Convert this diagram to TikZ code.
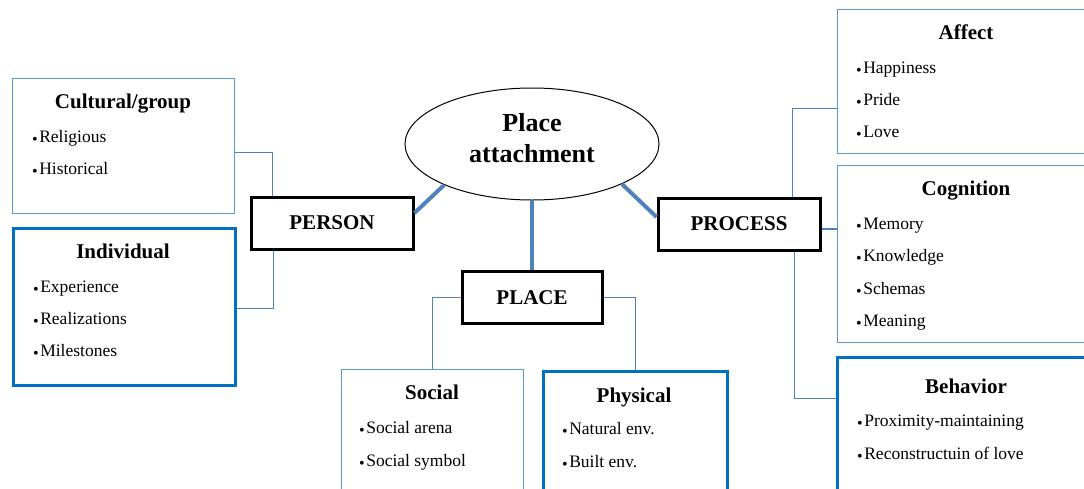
\documentclass[tikz,border=0pt]{standalone}
\usepackage{fontspec}
\setmainfont{Liberation Serif}
\usetikzlibrary{shapes.geometric}
\definecolor{linkblue}{RGB}{79,129,189}
\definecolor{boxblue}{RGB}{0,112,192}
\definecolor{thinblue}{RGB}{91,155,213}
\newcommand{\bul}{\raisebox{-2.5pt}{\fontsize{16}{16}\selectfont\textbullet}\kern1.5pt}
\tikzset{
  group box/.style={
    draw=thinblue,
    line width=1.3pt,
    anchor=north west,
    inner sep=0pt
  },
  key box/.style={
    group box,
    draw=boxblue,
    line width=3pt
  },
  main box/.style={
    draw,
    line width=3pt,
    minimum width=162pt,
    minimum height=52pt,
    font=\bfseries\fontsize{21}{25}\selectfont
  },
  head/.style={
    anchor=base,
    inner sep=0pt,
    font=\bfseries\fontsize{21}{25}\selectfont
  },
  item/.style={
    anchor=base west,
    inner sep=0pt,
    font=\fontsize{17.5}{21}\selectfont
  },
  link/.style={draw=linkblue, line width=1.5pt},
  stem/.style={draw=linkblue, line width=4pt}
}

\begin{document}
\begin{tikzpicture}[x=1pt,y=-1pt]
\useasboundingbox (0,0) rectangle (1084,488);
\clip (0,0) rectangle (1084,488);
% centre
\node (pa) [ellipse,draw,line width=1pt,minimum width=254pt,minimum height=112pt] at (532,144) {};
\node (paT) [align=center,font=\bfseries\fontsize{26}{31}\selectfont] at (532,138) {Place\\attachment};
\node (person) [main box] at (332,223) {PERSON};
\node (place) [main box,minimum width=140pt] at (532,297.5) {PLACE};
\node (process) [main box] at (739,224) {PROCESS};
% person side
\node (cult) [group box,minimum width=222pt,minimum height=135pt] at (12,78) {};
\node (cultT) [head] at (123,108) {Cultural/group};
\node (rel) [item] at (32,142) {\bul Religious};
\node (hist) [item] at (32,174) {\bul Historical};
\node (indiv) [key box,minimum width=222pt,minimum height=157pt] at (12,227) {};
\node (indivT) [head] at (123,258) {Individual};
\node (exp) [item] at (33,292) {\bul Experience};
\node (real) [item] at (33,324) {\bul Realizations};
\node (mile) [item] at (33,356) {\bul Milestones};
% place side
\node (social) [group box,minimum width=182pt,minimum height=130pt] at (341,369) {};
\node (socialT) [head] at (432,399) {Social};
\node (arena) [item] at (359,433) {\bul Social arena};
\node (symb) [item] at (359,466) {\bul Social symbol};
\node (phys) [key box,minimum width=184pt,minimum height=130pt] at (542,370) {};
\node (physT) [head] at (634,402) {Physical};
\node (nat) [item] at (562,434) {\bul Natural env.};
\node (built) [item] at (562,467) {\bul Built env.};
% process side
\node (affect) [group box,minimum width=260pt,minimum height=144pt] at (837,9) {};
\node (affectT) [head] at (966,39) {Affect};
\node (happy) [item] at (856,73) {\bul Happiness};
\node (pride) [item] at (856,105) {\bul Pride};
\node (love) [item] at (856,137) {\bul Love};
\node (cog) [group box,minimum width=260pt,minimum height=177pt] at (837,165) {};
\node (cogT) [head] at (966,195) {Cognition};
\node (mem) [item] at (856,229) {\bul Memory};
\node (know) [item] at (856,261) {\bul Knowledge};
\node (schema) [item] at (856,294) {\bul Schemas};
\node (mean) [item] at (856,326) {\bul Meaning};
\node (behav) [key box,minimum width=260pt,minimum height=150pt] at (836,356) {};
\node (behavT) [head] at (966,393) {Behavior};
\node (prox) [item] at (857,426) {\bul Proximity-maintaining};
\node (recon) [item] at (857,459) {\bul Reconstructuin of love};
% links
\draw [stem] (pa.205) -- ([yshift=10pt]person.east);
\draw [stem] (pa.south) -- (place.north);
\draw [stem] (pa.336) -- ([yshift=7pt]process.west);
\draw [link] ([yshift=-6.5pt]cult.east) -| ([xshift=23pt]person.north west);
\draw [link] ([yshift=-1.5pt]indiv.east) -| ([xshift=24pt]person.south west);
\draw [link] (place.west) -| (social.north);
\draw [link] (place.east) -| (phys.north);
\draw [link] ([xshift=136pt]process.north west) |- ([yshift=-27pt]affect.west);
\draw [link] ([yshift=-5pt]process.east) -- ([yshift=-5pt]process.east -| cog.west);
\draw [link] ([xshift=138pt]process.south west) |- ([yshift=34pt]behav.west);
\end{tikzpicture}
\end{document}
